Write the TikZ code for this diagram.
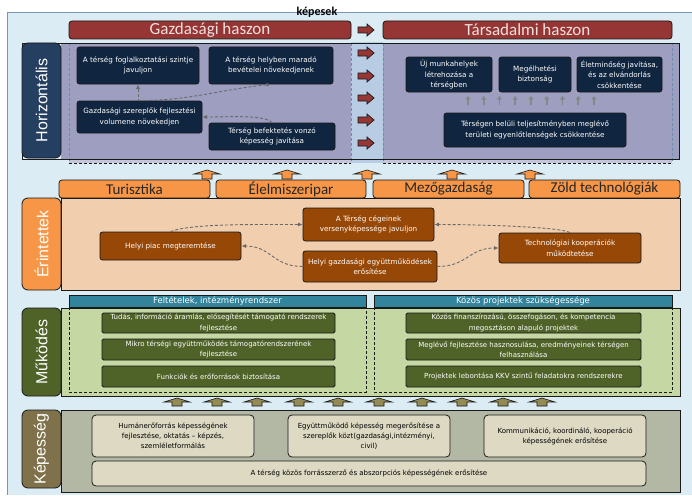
\documentclass[tikz,border=0pt]{standalone}
\usepackage{fontspec}
\setmainfont{Carlito}
\newfontfamily\vfont{DejaVu Sans}
\newfontfamily\afont{Liberation Sans}
\usetikzlibrary{arrows.meta}
\definecolor{bgblue}{RGB}{219,236,244}
\definecolor{bgline}{RGB}{120,150,180}
\definecolor{dk}{RGB}{25,25,25}
\definecolor{hdrred}{RGB}{150,54,52}
\definecolor{hdrtxt}{RGB}{242,224,223}
\definecolor{navyl}{RGB}{36,63,96}
\definecolor{navyb}{RGB}{16,37,63}
\definecolor{lav}{RGB}{158,158,192}
\definecolor{band}{RGB}{184,204,228}
\definecolor{redarr}{RGB}{149,55,53}
\definecolor{tabor}{RGB}{247,150,70}
\definecolor{tabtxt}{RGB}{38,38,38}
\definecolor{peach}{RGB}{241,207,174}
\definecolor{brownb}{RGB}{151,72,7}
\definecolor{tealc}{RGB}{49,132,155}
\definecolor{greenr}{RGB}{197,215,163}
\definecolor{oliveb}{RGB}{79,98,40}
\definecolor{khaki}{RGB}{148,138,84}
\definecolor{kepl}{RGB}{127,113,73}
\definecolor{kepr}{RGB}{178,184,164}
\definecolor{beige}{RGB}{221,217,195}
\definecolor{conng}{RGB}{105,105,105}
\definecolor{dashblue}{RGB}{110,140,175}
\begin{document}
\begin{tikzpicture}[x=1pt,y=-1pt,
  hdr/.style={draw=dk, fill=hdrred, rounded corners=3pt, line width=0.8pt, text=hdrtxt, font=\fontsize{17}{18}\selectfont, inner sep=0pt},
  lbl/.style={rotate=90, draw=dk, line width=0.8pt, rounded corners=6pt, text=white, font=\afont\fontsize{16}{18}\selectfont, inner sep=0pt},
  nbox/.style={draw=dk, fill=navyb, rounded corners=2.5pt, line width=0.8pt, text=white, align=center, inner sep=0pt, font=\vfont\fontsize{7.2}{10.5}\selectfont},
  bbox/.style={nbox, fill=brownb},
  obox/.style={nbox, fill=oliveb, rounded corners=1.5pt, font=\vfont\fontsize{7}{10.5}\selectfont},
  kbox/.style={nbox, fill=beige, text=black, rounded corners=4pt, font=\vfont\fontsize{7}{10}\selectfont},
  tabbox/.style={draw=dk, fill=tabor, rounded corners=3pt, line width=0.8pt, text=tabtxt, font=\fontsize{15}{16}\selectfont, inner sep=0pt},
  thdr/.style={draw=dk, fill=tealc, line width=0.8pt, text=white, font=\vfont\fontsize{8.5}{9}\selectfont, inner sep=0pt},
  conn/.style={draw=conng, dash pattern=on 3pt off 2pt, line width=0.9pt, -{Latex[length=4.5pt,width=4pt]}},
  region/.style={draw=dk, line width=0.8pt},
  housearr/.style={draw=dk, line width=0.6pt},
  redarrow/.style={draw=dk, fill=redarr, line width=0.7pt}
]
\useasboundingbox (0,0) rectangle (692,495);
\fill[bgblue] (7,12) rectangle (692,495);
\draw[bgline, line width=0.8pt] (692,12) -- (7,12) -- (7,495);
\node[font=\bfseries\fontsize{12}{12}\selectfont, inner sep=0pt] (title) at (317,12) {képesek};

% headers
\node[hdr, minimum width=282, minimum height=18] (gh) at (210,30) {Gazdasági haszon};
\node[hdr, minimum width=289, minimum height=18] (th) at (527.5,30) {Társadalmi haszon};

% Horizontalis region
\fill[lav] (61,43) rectangle (679,159);
\fill[band] (351,42) rectangle (383,163);
\fill[lav!60!white] (69,159) rectangle (351,163);
\fill[lav!60!white] (383,159) rectangle (672,163);
\foreach \x in {69,351,383,672} \draw[dashblue, dash pattern=on 3pt off 2pt, line width=0.7pt] (\x,43) -- (\x,163);
\draw[dk, dash pattern=on 3pt off 2pt, line width=0.9pt] (69,163) -- (351,163);
\draw[dk, dash pattern=on 3pt off 2pt, line width=0.9pt] (383,163) -- (672,163);
\draw[region] (22,43) rectangle (679,159);
\node[lbl, fill=navyl, minimum width=115, minimum height=39] (hl) at (41.5,100.5) {Horizontális};

\node[nbox, minimum width=122, minimum height=37] (b1) at (138,65.5) {A térség foglalkoztatási szintje\\javuljon};
\node[nbox, minimum width=124, minimum height=37] (b2) at (271,65.5) {A térség  helyben maradó\\bevételei növekedjenek};
\node[nbox, minimum width=125, minimum height=32] (b3) at (139.5,117) {Gazdasági szereplők fejlesztési\\volumene növekedjen};
\node[nbox, minimum width=126, minimum height=27] (b4) at (272,136.5) {Térség befektetés  vonzó\\képesség javítása};
\node[nbox, minimum width=86, minimum height=35] (b5) at (449,74.5) {Új munkahelyek\\létrehozása  a\\térségben};
\node[nbox, minimum width=72, minimum height=35] (b6) at (535,74.5) {Megélhetési\\biztonság};
\node[nbox, minimum width=85, minimum height=35] (b7) at (619.5,74.5) {Életminőség  javítása,\\és az elvándorlás\\csökkentése};
\node[nbox, minimum width=182, minimum height=34] (b8) at (535,130) {Térségen belüli teljesítményben  meglévő\\területi  egyenlőtlenségek csökkentése};

\draw[conn] (b3.north) -- (b3.north -| b1.south) -- (b1.south);
\draw[conn] (b3.north) .. controls +(50,0) and +(-50,5) .. (b2.south);
\draw[conn] (b4.north) .. controls +(-8,-8) and +(30,0) .. (b3.east);

% red arrows
\foreach \y in {30,53,76,98,120,143}
  \draw[redarrow] (358,\y-3) -- (367,\y-3) -- (367,\y-6) -- (374,\y) -- (367,\y+6) -- (367,\y+3) -- (358,\y+3) -- cycle;
% small gray arrows
\foreach \i in {0,...,8}
  \draw[conng!80!white, line width=1.6pt, -{Triangle[length=3.5pt,width=5pt]}] (468+\i*15.75,105) -- (468+\i*15.75,96);

% orange up arrows
\foreach \x in {207,287,367,452,530}
  \draw[housearr, fill=tabor] (\x-5,179) -- (\x-5,174) -- (\x-13,174) -- (\x,170) -- (\x+13,174) -- (\x+5,174) -- (\x+5,179) -- cycle;

% tabs
\node[tabbox, minimum width=151, minimum height=18] (t1) at (134.5,189) {Turisztika};
\node[tabbox, minimum width=150, minimum height=18] (t2) at (291,189) {Élelmiszeripar};
\node[tabbox, minimum width=151, minimum height=18] (t3) at (448.5,189) {Mezőgazdaság};
\node[tabbox, minimum width=151, minimum height=18] (t4) at (604.5,189) {Zöld technológiák};

% Erintettek
\draw[region, fill=peach] (61,198) rectangle (680,290);
\node[lbl, fill=tabor, minimum width=92, minimum height=39] (el) at (41.5,244) {Érintettek};
\node[bbox, minimum width=131, minimum height=33] (e1) at (368.5,224.5) {A Térség cégeinek\\versenyképessége javuljon};
\node[bbox, minimum width=141, minimum height=28] (e2) at (170.5,246) {Helyi piac megteremtése};
\node[bbox, minimum width=134, minimum height=31] (e3) at (370,266.5) {Helyi gazdasági együttműködések\\erősítése};
\node[bbox, minimum width=142, minimum height=30] (e4) at (570,248) {Technológiai kooperációk\\működtetése};
\draw[conn] (e2.north) .. controls +(20,-8) and +(-50,0) .. (e1.west);
\draw[conn] (e3.west) .. controls +(-30,0) and +(30,0) .. (e2.east);
\draw[conn] (e4.north) .. controls +(-10,-6) and +(40,0) .. (e1.east);
\draw[conn] (e3.east) .. controls +(30,0) and +(-30,0) .. (e4.west);

% Mukodes
\node[thdr, minimum width=297, minimum height=12] (f1) at (217.5,301) {Feltételek, intézményrendszer};
\node[thdr, minimum width=298, minimum height=12] (f2) at (523,301) {Közös projektek szükségessége};
\draw[region, fill=greenr] (61,308) rectangle (680,396);
\draw[dk, dash pattern=on 3pt off 2pt, line width=0.8pt] (69,307) rectangle (366,392);
\draw[dk, dash pattern=on 3pt off 2pt, line width=0.8pt] (374,307) rectangle (672,392);
\node[lbl, fill=oliveb, minimum width=88, minimum height=39] (ml) at (41.5,352) {Működés};
\node[obox, minimum width=233, minimum height=20] (m1) at (218.5,323) {Tudás, információ áramlás, elősegítését támogató rendszerek\\fejlesztése};
\node[obox, minimum width=233, minimum height=21] (m2) at (218.5,349.5) {Mikro térségi együttműködés támogatórendszerének\\fejlesztése};
\node[obox, minimum width=233, minimum height=21] (m3) at (218.5,376.5) {Funkciók és erőforrások biztosítása};
\node[obox, minimum width=235, minimum height=20] (m4) at (523.5,323) {Közös finanszírozású, összefogáson, és kompetencia\\megosztáson alapuló projektek};
\node[obox, minimum width=235, minimum height=21] (m5) at (523.5,349.5) {Meglévő fejlesztése hasznosulása, eredményeinek térségen\\felhasználása};
\node[obox, minimum width=235, minimum height=21] (m6) at (523.5,376.5) {Projektek lebontása KKV szintű feladatokra  rendszerekre};

% khaki arrows
\foreach \x in {177,217,257,299,338,379,422,462,503,542}
  \draw[housearr, fill=khaki] (\x-5,406) -- (\x-5,402) -- (\x-13,402) -- (\x,398) -- (\x+13,402) -- (\x+5,402) -- (\x+5,406) -- cycle;

% Kepesseg
\draw[region, fill=kepr] (61,410) rectangle (680,492);
\node[lbl, fill=kepl, minimum width=78, minimum height=39] (kl) at (41.5,449) {Képesség};
\node[kbox, minimum width=162, minimum height=42] (k1) at (173,436) {Humánerőforrás képességének\\fejlesztése, oktatás – képzés,\\szemléletformálás};
\node[kbox, minimum width=162, minimum height=42] (k2) at (369,436) {Együttműködő  képesség megerősítése a\\szereplők közt(gazdasági,intézményi,\\civil)};
\node[kbox, minimum width=162, minimum height=42] (k3) at (565,436) {Kommunikáció,  koordináló, kooperáció\\képességének erősítése};
\node[kbox, minimum width=554, minimum height=25] (k4) at (369,473.5) {A térség közös forrásszerző és abszorpciós képességének erősítése};
\end{tikzpicture}
\end{document}
